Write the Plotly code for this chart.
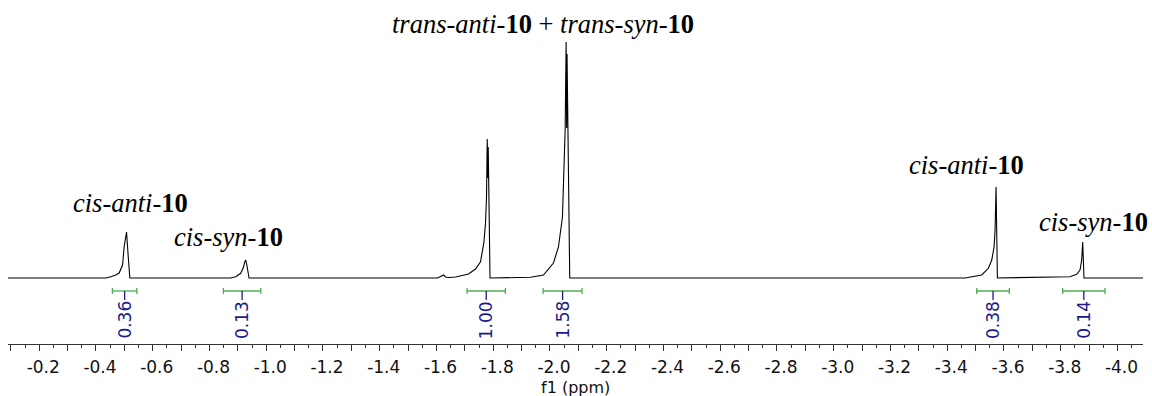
import numpy as np
import plotly.graph_objects as go

# ---- spectrum: chemical shift (ppm) and intensity (a.u.)
spectrum_ppm = [
    -0.09, -0.435, -0.4525, -0.470, -0.4817, -0.4937, -0.4993, -0.5042, -0.5077, -0.5141, -0.5194,
    -0.875, -0.8926, -0.9102, -0.9197, -0.9243, -0.9278, -0.9324, -0.9394,
    -1.604, -1.618, -1.625, -1.632, -1.643,
    -1.6673, -1.7130, -1.7377, -1.7553, -1.7669, -1.7729, -1.7764, -1.7789, -1.7810, -1.7824, -1.7859, -1.7887,
    -1.9313, -1.9771, -2.0123, -2.0299, -2.0440, -2.0486, -2.0535, -2.0570, -2.0588, -2.0602, -2.0634, -2.0669, -2.0697,
    -3.4630, -3.5218, -3.5451, -3.5570, -3.5651, -3.5687, -3.5722, -3.5768,
    -3.8327, -3.8563, -3.8680, -3.8739, -3.8775, -3.8820,
    -4.09,
]
spectrum_intensity = [
    0, 0, 1.3, 3, 5, 13, 31, 40, 46, 20, 0,
    0, 1.3, 4.7, 10.7, 16, 18, 12, 0,
    0, 2.5, 3, 1, 0.5,
    1, 4, 9, 16.3, 35, 55, 81, 139, 100, 131, 60, 0,
    0.7, 3, 15, 31, 61, 98, 148, 236, 150, 224, 120, 30, 0,
    0, 3, 9.7, 18, 31, 48, 91, 0,
    1.3, 3.7, 8, 18, 36, 0,
    0,
]

# ---- integrals
integral_start = [-0.458, -0.849, -1.708, -1.976, -3.504, -3.807]
integral_end = [-0.544, -0.981, -1.843, -2.113, -3.619, -3.956]
integral_values = [0.36, 0.13, 1.00, 1.58, 0.38, 0.14]

# ---- peak labels
peak_labels = [
    "<i>trans-anti-</i><b>10</b> + <i>trans-syn-</i><b>10</b>",
    "<i>cis-anti-</i><b>10</b>",
    "<i>cis-syn-</i><b>10</b>",
    "<i>cis-anti-</i><b>10</b>",
    "<i>cis-syn-</i><b>10</b>",
]
peak_label_ppm = [-1.974, -0.523, -0.868, -3.467, -3.917]
peak_label_intensity = [254, 75, 41, 113, 56]

# ---- axis tick labels
tick_values = [-0.2, -0.4, -0.6, -0.8, -1.0, -1.2, -1.4, -1.6, -1.8, -2.0,
               -2.2, -2.4, -2.6, -2.8, -3.0, -3.2, -3.4, -3.6, -3.8, -4.0]
tick_labels = ["-0.2", "-0.4", "-0.6", "-0.8", "-1.0", "-1.2", "-1.4", "-1.6", "-1.8", "-2.0",
               "-2.2", "-2.4", "-2.6", "-2.8", "-3.0", "-3.2", "-3.4", "-3.6", "-3.8", "-4.0"]

# build major ticks every 0.1 (labelled every 0.2)
major_vals = [round(-0.1 * k, 2) for k in range(1, 41)]
label_map = {round(v, 2): t for v, t in zip(tick_values, tick_labels)}
major_text = [label_map.get(v, "") for v in major_vals]

fig = go.Figure()

fig.add_trace(go.Scatter(
    x=spectrum_ppm, y=spectrum_intensity, mode="lines",
    line=dict(color="black", width=1.1), hoverinfo="skip", showlegend=False,
))

BAR = -13
CAP = 3
gx, gy, nx, ny = [], [], [], []
for s, e in zip(integral_start, integral_end):
    gx += [s, e, None, s, s, None, e, e, None]
    gy += [BAR, BAR, None, BAR + CAP, BAR - CAP, None, BAR + CAP, BAR - CAP, None]
    m = (s + e) / 2
    nx += [m, m, None]
    ny += [BAR, BAR - 9, None]

fig.add_trace(go.Scatter(x=gx, y=gy, mode="lines", line=dict(color="#4caf50", width=1.3),
                         hoverinfo="skip", showlegend=False))
fig.add_trace(go.Scatter(x=nx, y=ny, mode="lines", line=dict(color="#1a1a8c", width=1.3),
                         hoverinfo="skip", showlegend=False))

for s, e, v in zip(integral_start, integral_end, integral_values):
    fig.add_annotation(x=(s + e) / 2, y=-42, xref="x", yref="y", text=f"{v:.2f}",
                       textangle=-90, showarrow=False, xanchor="center", yanchor="middle",
                       font=dict(family="DejaVu Sans", size=17, color="#1a1a8c"))

for txt, px, py in zip(peak_labels, peak_label_ppm, peak_label_intensity):
    fig.add_annotation(x=px, y=py, xref="x", yref="y", text=txt, showarrow=False,
                       xanchor="center", yanchor="middle",
                       font=dict(family="Liberation Serif", size=26.5, color="black"))

# axis title placed below tick labels
fig.add_annotation(x=0.5, y=-0.126, xref="paper", yref="paper", text="f1 (ppm)",
                   showarrow=False, xanchor="center", yanchor="middle", borderpad=0,
                   font=dict(family="DejaVu Sans", size=16, color="#111111"))

fig.update_layout(
    width=1152, height=396,
    margin=dict(l=8, r=9, t=0, b=52, autoexpand=False),
    paper_bgcolor="white", plot_bgcolor="white",
    xaxis=dict(
        range=[-0.09, -4.09], showgrid=False, zeroline=False, automargin=False,
        showline=True, linecolor="#333333", linewidth=1,
        tickmode="array", tickvals=major_vals, ticktext=major_text,
        ticks="outside", ticklen=6, tickwidth=1, tickcolor="#333333",
        ticklabelshift=-4, ticklabelstandoff=2,
        tickfont=dict(family="DejaVu Sans", size=17, color="#111111"),
        minor=dict(dtick=0.05, tick0=0, ticks="outside", ticklen=3, tickcolor="#333333", tickwidth=1),
    ),
    yaxis=dict(range=[-66, 278], visible=False, automargin=False),
)

fig.write_html("out.html", config={"displayModeBar": False},
               post_script="document.body.style.margin='0';document.body.style.overflow='hidden';")
